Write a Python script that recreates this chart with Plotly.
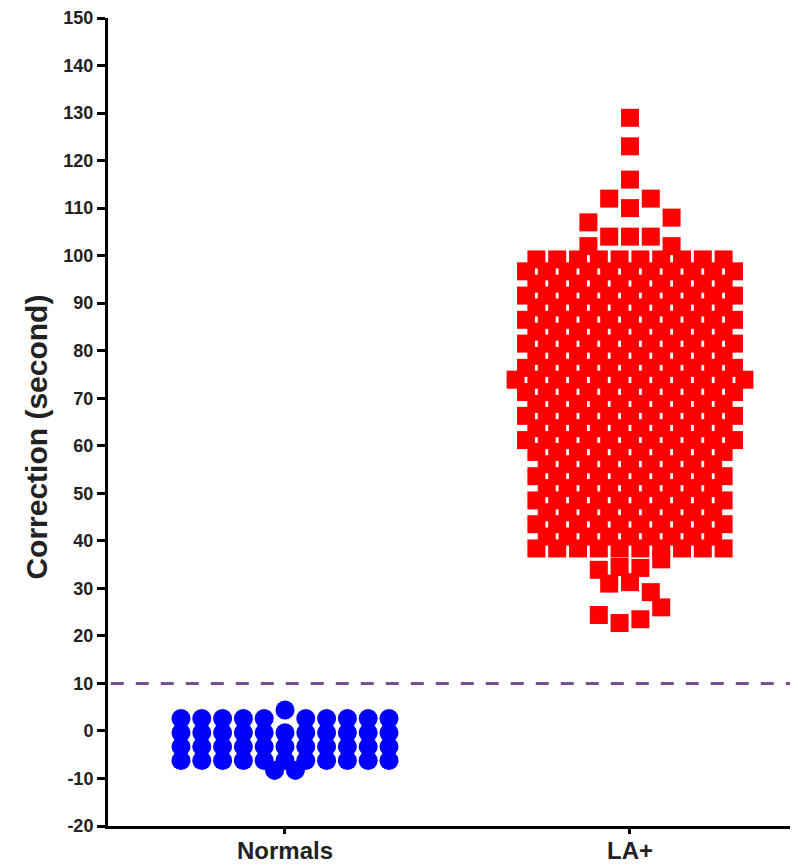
import plotly.graph_objects as go

# ---------------- data ----------------
categories = ["Normals", "LA+"]

# Normals group: value of each row of dots and how many dots share it
normals_values = [4.4, 2.6, -0.4, -3.3, -6.2, -8.3]
normals_counts = [1, 10, 11, 11, 11, 2]

# LA+ group: values (listing order) and multiplicity
la_values = [129, 123, 116,
             110, 112, 107, 108,
             104, 102,
             99.2, 96.7, 94.1, 91.6, 89.1, 86.5, 84.0, 81.5, 78.9, 76.4,
             73.9, 71.3, 68.8, 66.3, 63.7, 61.2, 58.7, 56.1, 53.6, 51.1,
             48.5, 46.0, 43.5, 40.9, 38.4,
             34.5, 34.3, 33.9, 36.1,
             31.3, 31.0, 29.2,
             22.7, 23.5, 24.4, 26.0]
la_counts = [1, 1, 1,
             1, 2, 1, 1,
             3, 2,
             10, 11, 10, 11, 10, 11, 10, 11, 10, 11,
             12, 11, 10, 11, 10, 11, 10, 9, 10, 9,
             10, 9, 10, 9, 10,
             1, 1, 1, 1,
             1, 1, 1,
             1, 1, 1, 1]

y_tick_values = [-20, -10, 0, 10, 20, 30, 40, 50, 60, 70, 80, 90, 100, 110, 120, 130, 140, 150]
y_tick_labels = ["-20", "-10", "0", "10", "20", "30", "40", "50", "60", "70", "80", "90",
                 "100", "110", "120", "130", "140", "150"]
y_title = "Correction (second)"
cutoff = 10

# ---------------- layout constants ----------------
# (the page body has an 8px margin, so margins are reduced by 8px on left/top)
W, H = 798, 866
ML, MR, MT, MB = 100, 8, 10, 48
XR = [-0.513, 1.487]
PX_PER_X = (W - ML - MR) / (XR[1] - XR[0])
SLOT_PX = 20.8
ROW_TOL = 2.0
FONT = "Liberation Sans, Arial, sans-serif"


def swarm(values, counts, tol):
    """GraphPad-like column scatter: points whose values are close are put in one
    row and spread side by side around the column centre."""
    pts = []
    for v, c in zip(values, counts):
        pts.extend([v] * c)
    idx = sorted(range(len(pts)), key=lambda i: -pts[i])
    bins, cur = [], [idx[0]]
    for a, b in zip(idx, idx[1:]):
        if pts[a] - pts[b] <= tol + 1e-9:
            cur.append(b)
        else:
            bins.append(cur)
            cur = [b]
    bins.append(cur)
    slots = [0.0] * len(pts)
    for bn in bins:
        bn = sorted(bn)
        n = len(bn)
        if n % 2:
            order = [0.0] + [s for k in range(1, n // 2 + 1) for s in (-k, k)]
        else:
            order = [s for k in range(n // 2) for s in (-(k + 0.5), k + 0.5)]
        for i, s in zip(bn, order):
            slots[i] = s
    return pts, slots


fig = go.Figure()

groups = [
    (normals_values, normals_counts, "circle", "#0000ff", 19),
    (la_values, la_counts, "square", "#ff0000", 18),
]
for gi, (vals, cnts, sym, col, size) in enumerate(groups):
    ys, slots = swarm(vals, cnts, ROW_TOL)
    xs = [gi + s * SLOT_PX / PX_PER_X for s in slots]
    fig.add_trace(go.Scatter(
        x=xs, y=ys, mode="markers", name=categories[gi],
        marker=dict(symbol=sym, color=col, size=size, line=dict(width=0)),
        showlegend=False, hoverinfo="y",
    ))

fig.add_shape(type="line", xref="paper", yref="y", x0=0.004, x1=0.99, y0=cutoff, y1=cutoff,
              line=dict(color="#7a4f90", width=3, dash="13px,12px"))

# y-axis title placed as a rotated annotation (slightly below the axis centre, as in the original)
fig.add_annotation(text=y_title, textangle=-90, xref="paper", yref="paper",
                   x=-0.104, y=0.481, xanchor="center", yanchor="middle", showarrow=False,
                   font=dict(family=FONT, size=30, color="#222222", weight="bold"))

fig.update_layout(
    width=W, height=H,
    margin=dict(l=ML, r=MR, t=MT, b=MB, pad=0),
    paper_bgcolor="white", plot_bgcolor="white",
    xaxis=dict(
        range=XR, tickmode="array", tickvals=[0, 1], ticktext=categories, automargin=False,
        showgrid=False, zeroline=False, showline=True, linecolor="black", linewidth=3,
        ticks="outside", ticklen=5, tickwidth=3, tickcolor="black", ticklabelstandoff=-4,
        tickfont=dict(family=FONT, size=24, color="#222222", weight="bold"),
    ),
    yaxis=dict(
        range=[-20, 150], tickmode="array", tickvals=y_tick_values, ticktext=y_tick_labels,
        automargin=False,
        showgrid=False, zeroline=False, showline=True, linecolor="black", linewidth=3,
        ticks="outside", ticklen=8, tickwidth=3, tickcolor="black",
        tickfont=dict(family=FONT, size=18, color="#222222", weight="bold"),
    ),
)

fig.write_html("out.html")
